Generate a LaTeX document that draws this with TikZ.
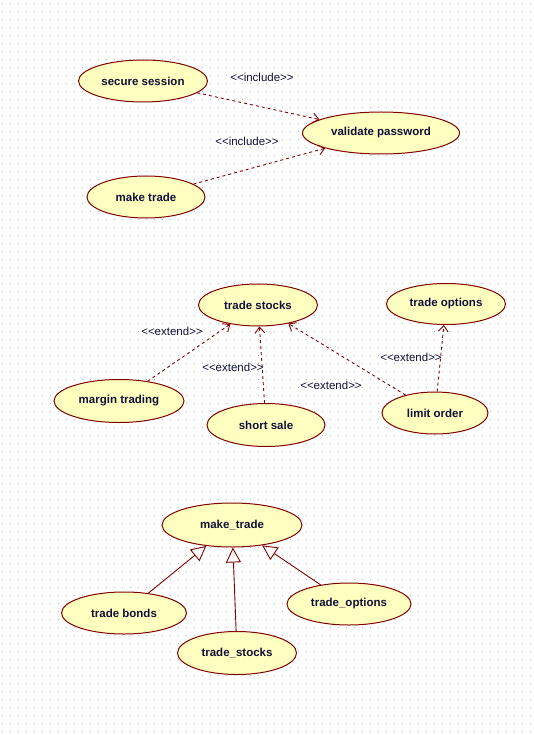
\documentclass[tikz,border=0pt]{standalone}
\usepackage{fontspec}
\setmainfont{Liberation Sans}
\usetikzlibrary{arrows.meta,shapes.geometric}
\definecolor{umlred}{HTML}{800000}
\definecolor{umlfill}{HTML}{FFFFC0}
\definecolor{umltext}{HTML}{101038}
\definecolor{griddot}{HTML}{B4B4B4}

\begin{document}
\begin{tikzpicture}[x=1pt,y=-1pt,
		usecase/.style={ellipse,draw=umlred,line width=1pt,fill=umlfill,inner sep=0pt,text=umltext,font=\fontsize{11.5}{13}\selectfont\bfseries},
		stereo/.style={inner sep=0pt,text=umltext,font=\fontsize{11.5}{13}\selectfont},
		depend/.style={draw=umlred,line width=0.9pt,dash pattern=on 3pt off 3pt,-{Straight Barb[length=6pt,width=10pt]}},
		general/.style={draw=umlred,line width=0.9pt,-{Triangle[open,length=15pt,width=15pt]}}]
	\useasboundingbox (0,0) rectangle (534,735);
	\fill[white] (0,0) rectangle (534,735);
	\foreach \y in {3.5,11.5,...,735}
		\draw[griddot,line width=1pt,dash pattern=on 1pt off 7pt] (2,\y) -- (534,\y);

	% include
	\node[usecase,minimum width=129pt,minimum height=42pt]	(ss)	at (143,81)	{secure session};
	\node[usecase,minimum width=157pt,minimum height=42pt]	(vp)	at (381,133)	{validate password};
	\node[usecase,minimum width=118pt,minimum height=42pt]	(mt)	at (146,197)	{make trade};
	\node[stereo]	(i1)	at (262,77)		{<{}<include>{}>};
	\node[stereo]	(i2)	at (247,141)	{<{}<include>{}>};

	\draw[depend] (ss) -- (vp);
	\draw[depend] (mt) -- (vp);

	% extend
	\node[usecase,minimum width=119pt,minimum height=42pt]	(ts)	at (258,305)	{trade stocks};
	\node[usecase,minimum width=119pt,minimum height=41pt]	(to)	at (446,304)	{trade options};
	\node[usecase,minimum width=130pt,minimum height=43pt]	(mg)	at (119,401)	{margin trading};
	\node[usecase,minimum width=118pt,minimum height=43pt]	(sh)	at (266,425)	{short sale};
	\node[usecase,minimum width=106pt,minimum height=42pt]	(lo)	at (435,413)	{limit order};
	\node[stereo]	(e1)	at (172,331)	{<{}<extend>{}>};
	\node[stereo]	(e2)	at (233,367)	{<{}<extend>{}>};
	\node[stereo]	(e3)	at (331,385)	{<{}<extend>{}>};
	\node[stereo]	(e4)	at (411,357)	{<{}<extend>{}>};

	\draw[depend] (mg) -- (ts);
	\draw[depend] (sh) -- (ts);
	\draw[depend] (lo) -- (ts);
	\draw[depend] (lo) -- (to);

	% generalization
	\node[usecase,minimum width=140pt,minimum height=44pt]	(mk)	at (232,525)	{make\_trade};
	\node[usecase,minimum width=125pt,minimum height=42pt]	(tb)	at (124,613)	{trade bonds};
	\node[usecase,minimum width=119pt,minimum height=43pt]	(tst)	at (237,653)	{trade\_stocks};
	\node[usecase,minimum width=124pt,minimum height=42pt]	(top)	at (349,604)	{trade\_options};

	\draw[general] (tb) -- (mk);
	\draw[general] (tst) -- (mk);
	\draw[general] (top) -- (mk);
\end{tikzpicture}
\end{document}
